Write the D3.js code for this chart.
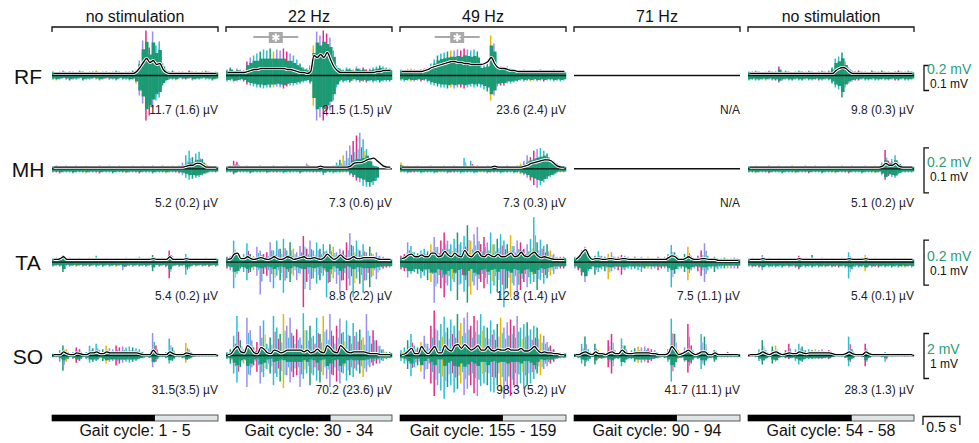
<!DOCTYPE html>
<meta charset="utf-8">
<html>
<head>
<script src="https://d3js.org/d3.v7.min.js"></script>
<style>
  body { margin: 0; background: #fff; }
  text { font-family: "Liberation Sans", Arial, sans-serif; fill: #111; }
</style>
</head>
<body>
<div id="my_dataviz"></div>
<script>

// conditions (columns) and muscles (rows)
var conditions = ["no stimulation", "22 Hz", "49 Hz", "71 Hz", "no stimulation"];
var muscles = ["RF", "MH", "TA", "SO"];
var gaitCycles = ["1 - 5", "30 - 34", "155 - 159", "90 - 94", "54 - 58"];
var stanceFrac = [0.62, 0.63, 0.62, 0.62, 0.625];
var windowSec = 2.25;                          // length of each trace window, s
var sigWindow = [null, [0.37, 0.98], [0.47, 1.08], null, null];   // s
var rawBar = ["0.2 mV", "0.2 mV", "0.2 mV", "2 mV"];
var envBar = ["0.1 mV", "0.1 mV", "0.1 mV", "1 mV"];

var meanAmp = {
  RF: ["11.7 (1.6) µV", "21.5 (1.5) µV", "23.6 (2.4) µV", "N/A", "9.8 (0.3) µV"],
  MH: ["5.2 (0.2) µV", "7.3 (0.6) µV", "7.3 (0.3) µV", "N/A", "5.1 (0.2) µV"],
  TA: ["5.4 (0.2) µV", "8.8 (2.2) µV", "12.8 (1.4) µV", "7.5 (1.1) µV", "5.4 (0.1) µV"],
  SO: ["31.5(3.5) µV", "70.2 (23.6) µV", "98.3 (5.2) µV", "41.7 (11.1) µV", "28.3 (1.3) µV"]
};

// amplitudes in 1/50ths of the row's scale bar, 50 time bins per window
// up / dn = raw EMG peak excursion above / below zero, env = mean envelope
var RF_up = [
  [8,6,8,10,6,8,8,6,10,8,6,8,8,10,6,8,8,6,8,10,8,6,8,8,10,12,30,70,90,56,88,60,68,24,12,8,10,6,8,8,6,10,8,8,6,8,10,8,6,8],
  [12,16,10,14,12,10,28,36,40,44,48,52,50,54,48,52,50,54,48,44,40,32,24,16,14,20,60,88,80,90,84,76,50,20,14,12,16,14,12,18,14,16,12,14,16,18,20,18,16,14],
  [12,10,12,14,12,10,12,14,16,24,32,40,44,46,48,50,50,52,50,54,52,50,52,48,20,22,24,80,64,20,18,16,18,14,12,10,10,12,10,8,10,10,12,10,8,10,12,10,10,8],
  null,
  [8,8,10,8,6,8,10,8,8,18,8,10,8,6,8,10,8,8,10,8,6,8,10,8,10,16,34,38,46,28,16,10,8,10,8,8,6,10,8,8,10,8,8,6,8,10,8,8,10,8]
];
var RF_dn = [
  [8,10,8,6,8,10,8,8,6,10,8,8,6,8,10,8,6,8,8,10,6,8,8,10,8,16,40,56,90,80,64,50,44,20,12,8,8,10,6,8,8,6,10,8,8,6,8,8,10,8],
  [12,10,14,12,10,12,18,20,22,24,24,26,24,24,24,22,24,26,22,20,20,18,16,14,12,16,60,90,84,90,80,70,50,24,12,14,12,14,10,12,14,12,14,12,14,12,14,12,12,12],
  [10,12,10,12,12,10,12,10,14,18,20,22,24,24,26,24,26,24,24,26,24,22,24,22,24,28,32,50,40,22,20,20,16,16,14,12,10,12,10,12,10,12,10,12,10,10,12,10,12,10],
  null,
  [10,8,10,10,8,10,8,10,10,14,10,8,10,10,8,10,10,8,10,10,8,10,10,8,10,16,24,28,44,24,16,12,10,10,8,10,10,8,10,10,8,10,10,8,10,10,8,10,10,8]
];
var RF_env = [
  [4,4,4,4,4,4,4,4,4,4,4,4,4,4,4,4,4,4,4,4,4,4,4,4,4,8,16,26,34,26,30,22,24,12,6,4,4,4,4,4,4,4,4,4,4,4,4,4,4,4],
  [6,6,6,6,6,6,8,10,12,12,14,14,14,14,14,14,14,14,12,12,10,8,6,6,4,8,40,36,42,36,46,32,18,10,6,6,6,6,6,6,6,6,6,6,6,8,8,10,10,10],
  [8,8,8,8,8,8,8,10,12,16,18,20,22,24,26,28,28,26,26,24,24,22,22,22,22,24,28,36,24,16,14,14,12,10,10,8,8,8,8,8,8,8,8,8,8,8,8,8,8,8],
  null,
  [4,4,4,4,4,4,4,4,4,4,4,4,4,4,4,4,4,4,4,4,4,4,4,4,4,4,10,14,16,14,8,4,4,4,4,4,4,4,4,4,4,4,4,4,4,4,4,4,4,4]
];

var MH_up = [
  [3,4,3,3,4,3,3,4,3,3,4,3,3,3,4,3,3,4,3,3,4,3,3,3,4,3,3,4,3,3,4,3,3,4,3,3,4,3,4,7,15,20,13,17,19,11,6,3,3,3],
  [3,4,9,8,3,3,4,3,3,3,4,3,3,3,4,3,3,3,4,3,3,3,3,3,6,3,3,3,4,3,3,3,4,7,10,15,20,26,31,37,40,33,22,11,4,3],
  [7,3,4,3,3,4,3,3,3,4,3,3,3,4,3,3,4,3,3,12,3,9,3,4,3,3,4,3,3,4,3,3,4,3,3,4,6,9,15,13,20,22,23,20,17,11,9,6,4,3],
  null,
  [3,3,4,3,3,3,4,3,3,4,3,3,3,4,3,3,3,4,3,3,4,3,3,3,4,3,3,3,4,3,3,4,3,3,3,4,3,3,4,3,7,21,9,11,15,7,4,3,3,3]
];
var MH_dn = [
  [4,4,5,4,4,4,5,4,4,4,5,4,4,4,5,4,4,4,5,4,4,4,5,4,4,4,5,4,4,4,5,4,4,4,5,4,4,4,5,7,10,12,11,10,9,7,6,4,4,4],
  [4,4,6,4,4,4,4,5,4,4,4,4,5,4,4,4,4,5,4,4,4,4,5,4,4,4,4,4,4,7,4,4,5,4,4,4,4,7,9,13,15,19,20,20,18,13,9,6,4,4],
  [4,4,5,4,4,4,5,4,4,4,5,4,4,4,5,4,4,4,5,4,4,4,5,4,4,4,5,4,4,4,5,4,4,4,5,4,6,7,10,13,18,21,18,15,11,9,7,4,4,4],
  null,
  [4,4,5,4,4,4,5,4,4,4,5,4,4,4,5,4,4,4,5,4,4,4,5,4,4,4,5,4,4,4,5,4,4,4,5,4,4,4,5,4,7,12,8,9,10,6,4,4,4,4]
];
var MH_env = [
  [2,2,2,2,2,2,2,2,2,2,2,2,2,2,2,2,2,2,2,2,2,2,2,2,2,2,2,2,2,2,2,2,2,2,2,2,2,2,2,2,3,4,4,6,6,4,2,2,2,2],
  [2,2,2,2,2,2,2,2,2,2,2,2,2,2,2,2,2,2,2,2,2,2,2,2,2,2,2,2,3,2,2,2,2,2,2,2,2,3,6,7,7,8,10,11,12,9,6,3,2,2],
  [2,2,2,2,2,2,2,2,2,2,2,2,2,2,2,2,2,2,2,2,2,2,2,2,2,2,2,2,3,2,2,2,2,2,2,2,2,3,4,6,7,8,9,10,10,9,6,3,2,2],
  null,
  [2,2,2,2,2,2,2,2,2,2,2,2,2,2,2,2,2,2,2,2,2,2,2,2,2,2,2,2,2,2,2,2,2,2,2,2,2,2,2,2,3,6,4,4,6,3,2,2,2,2]
];

var TA_up = [
  [4,5,4,8,4,5,4,4,5,4,4,5,4,7,4,4,5,4,4,5,4,4,5,4,4,5,6,4,4,5,8,4,4,5,4,13,7,4,5,4,9,4,4,5,4,4,5,4,4,5],
  [6,7,24,11,6,9,21,9,7,17,13,9,11,22,13,24,15,26,13,22,15,11,18,29,15,24,13,22,15,20,13,20,17,11,15,13,22,32,18,24,13,20,11,17,9,11,7,6,4,4],
  [7,9,22,18,11,10,13,15,12,20,28,17,24,33,24,20,26,33,22,29,41,24,31,39,20,28,22,33,20,26,31,24,20,30,18,24,22,15,20,26,50,22,25,18,20,13,9,6,6,6],
  [6,7,13,17,9,6,7,12,7,6,9,11,6,6,8,7,6,4,6,4,6,4,6,4,4,6,4,6,9,19,11,6,4,9,17,7,4,7,13,21,7,4,6,4,4,5,4,4,5,4],
  [4,5,4,4,8,4,5,4,4,5,4,4,5,4,4,7,4,5,4,8,4,4,5,4,4,5,4,4,5,4,11,5,4,4,5,8,4,4,5,4,4,5,4,4,5,4,4,5,4,4]
];
var TA_dn = [
  [5,4,5,11,4,5,4,5,4,5,4,5,4,5,4,5,4,5,4,5,4,9,5,4,5,4,5,4,5,4,10,4,5,4,5,18,5,4,5,4,14,7,4,5,4,5,4,5,4,5],
  [7,9,29,13,7,11,20,11,9,15,36,13,15,22,29,15,20,34,18,22,15,20,13,50,22,31,18,24,20,15,39,22,18,24,34,20,31,26,39,18,24,34,20,28,15,19,9,7,6,6],
  [8,10,17,13,11,13,18,15,20,22,45,24,29,39,26,32,22,42,24,33,45,36,26,31,22,29,24,35,26,33,42,50,29,39,26,42,31,22,28,24,22,31,20,24,18,15,13,8,7,7],
  [7,9,15,22,10,8,14,11,8,10,19,10,8,9,14,9,7,8,7,9,11,7,7,8,7,9,7,7,11,28,13,8,7,11,20,9,7,10,15,22,9,7,11,8,7,7,7,7,7,7],
  [5,6,5,6,9,5,6,5,6,5,6,5,6,5,6,8,5,6,5,6,5,6,5,6,5,6,5,6,5,6,18,8,5,6,5,10,5,6,5,6,5,6,5,6,5,6,5,6,5,6]
];
var TA_env = [
  [3,3,4,6,3,3,3,3,3,3,3,3,3,3,3,3,3,3,3,3,3,3,3,3,3,3,3,3,3,3,4,3,3,3,3,6,3,3,3,3,4,3,3,3,3,3,3,3,3,3],
  [3,4,9,10,4,4,6,4,3,4,5,4,3,4,6,4,3,4,6,5,3,4,5,6,4,4,5,4,3,5,9,6,3,5,8,5,3,4,6,4,4,5,5,5,5,4,3,3,3,3],
  [4,5,8,9,6,6,8,6,6,10,10,6,7,12,8,6,10,7,6,13,8,6,10,12,7,6,9,7,6,9,6,6,8,10,6,7,11,7,6,9,11,7,5,6,5,4,3,3,3,3],
  [3,6,11,14,7,3,4,4,3,3,4,4,3,3,4,4,3,3,3,3,3,3,3,3,3,3,3,3,5,7,6,3,3,4,6,4,3,3,4,4,3,3,3,2,2,2,2,2,2,2],
  [3,3,3,3,4,3,3,3,3,3,3,3,3,3,3,4,3,3,3,3,3,3,3,3,3,3,3,3,3,3,4,3,3,3,3,4,3,3,3,3,3,3,3,3,3,3,3,3,3,3]
];

var SO_up = [
  [2,2,6,11,7,2,4,9,7,2,4,11,8,13,6,7,11,8,7,11,9,10,9,10,9,8,7,4,2,3,25,11,2,2,4,19,9,2,2,3,14,7,2,1,1,1,1,1,1,1],
  [4,7,22,44,17,7,42,28,9,15,33,39,13,20,44,31,24,46,33,42,22,29,20,47,28,33,22,42,24,44,29,46,22,33,41,26,39,22,36,26,29,20,46,22,28,17,11,7,4,4],
  [6,9,17,24,11,9,15,22,13,33,50,28,35,43,31,40,33,46,36,42,48,33,44,39,46,33,31,39,29,35,42,31,37,40,33,44,31,35,37,29,33,31,24,22,15,11,7,4,3,3],
  [2,3,13,21,7,2,13,6,4,3,17,24,6,4,19,11,4,6,8,10,9,10,8,7,6,3,2,3,7,41,24,6,3,9,35,11,3,4,24,21,4,2,6,2,2,2,4,2,2,2],
  [1,1,2,7,17,6,2,10,11,4,2,6,13,4,7,13,10,6,7,6,7,6,7,4,6,3,1,1,1,3,21,7,1,1,2,13,4,1,1,1,2,4,1,1,1,1,1,1,1,1]
];
var SO_dn = [
  [2,2,7,17,7,2,4,8,6,2,4,8,7,6,3,6,9,7,6,11,9,8,7,8,7,6,4,3,2,3,13,7,2,2,3,9,6,2,2,3,8,4,2,1,1,1,1,1,1,1],
  [4,9,20,30,13,9,35,22,11,18,31,24,15,20,33,24,29,36,22,30,24,22,35,26,20,33,22,28,30,22,26,35,22,29,31,20,28,22,24,17,20,24,18,13,11,9,9,6,4,3],
  [6,9,15,23,13,11,18,26,15,31,45,33,39,48,35,33,41,37,31,44,37,33,42,45,34,31,33,40,41,33,40,48,39,45,33,35,31,37,33,31,26,20,22,15,12,9,7,4,3,3],
  [2,3,9,12,6,2,10,4,4,3,13,20,4,4,12,8,4,4,7,8,8,7,8,6,4,3,2,3,7,29,13,4,3,7,19,9,3,4,15,11,4,3,7,2,2,2,2,2,2,2],
  [1,1,2,6,10,4,2,9,7,3,2,3,4,3,6,10,7,4,4,4,4,4,4,3,4,2,1,1,1,3,12,4,1,1,2,12,3,1,1,1,2,7,1,1,1,1,1,1,1,1]
];
var SO_env = [
  [1,1,1,4,2,1,1,3,2,1,1,3,3,4,2,2,4,3,3,3,3,3,3,3,3,3,2,1,1,1,6,2,1,1,1,4,2,1,1,1,3,2,1,1,1,1,1,1,1,1],
  [1,2,7,10,4,3,11,8,3,2,9,7,3,2,6,5,3,4,6,6,6,6,6,4,6,3,4,7,4,3,11,8,4,3,11,8,4,3,4,4,4,4,3,2,2,2,1,1,1,1],
  [1,2,5,8,2,2,10,5,2,6,10,3,3,11,7,5,11,12,8,12,9,6,8,11,6,6,10,6,5,7,6,6,8,6,6,6,8,5,5,7,10,6,3,4,3,3,2,2,1,1],
  [1,1,3,4,2,1,4,2,2,1,3,4,2,2,6,3,2,2,3,3,3,3,3,2,2,1,1,1,3,10,6,1,2,4,6,3,1,2,4,4,1,1,3,1,1,1,1,1,1,1],
  [1,1,1,2,4,2,1,3,4,2,1,2,3,2,2,4,3,2,3,3,3,3,3,3,3,2,1,1,1,2,4,2,1,1,1,4,2,1,1,1,1,1,1,1,1,1,1,1,1,1]
];

var traces = {
  RF: {up: RF_up, dn: RF_dn, env: RF_env},
  MH: {up: MH_up, dn: MH_dn, env: MH_env},
  TA: {up: TA_up, dn: TA_dn, env: TA_env},
  SO: {up: SO_up, dn: SO_dn, env: SO_env}
};

// layout
var width = 979, height = 443, nBins = 50;
var green = "#1b9a74";
var spikeColors = ["#1b9a74", "#e7298a", "#27c0d3", "#9a8df0", "#27c0d3", "#e6b800",
                   "#9a8df0", "#27c0d3", "#e7298a", "#1b9a74", "#9a8df0", "#27c0d3"];
var barPx = {RF: 25, MH: 45, TA: 45, SO: 45};
var barTop = {RF: -10, MH: -21, TA: -22, SO: -22};
var bodyK = {RF: 2.2, MH: 1.3, TA: 1.0, SO: 0.9};   // how far the dense green sweeps reach

var svg = d3.select("#my_dataviz")
  .append("svg")
    .attr("width", width)
    .attr("height", height);

var x = d3.scaleBand()
  .domain(d3.range(conditions.length))
  .range([52, 914])
  .paddingInner(0.046);
var rowY = d3.scalePoint()
  .domain(muscles)
  .range([75.5, 355.5]);
var t = d3.scaleLinear()
  .domain([0, windowSec])
  .range([0, x.bandwidth()]);

// column headers with brackets
conditions.forEach(function(name, c) {
  var x0 = x(c), x1 = x0 + x.bandwidth();
  svg.append("text")
    .attr("x", (x0 + x1) / 2).attr("y", 22)
    .attr("text-anchor", "middle")
    .style("font-size", "16px")
    .text(name);
  svg.append("path")
    .attr("d", "M" + x0 + ",32V27H" + x1 + "V32")
    .attr("fill", "none").attr("stroke", "#111").attr("stroke-width", 1.3);

  // significance marker
  if (sigWindow[c]) {
    var s0 = x0 + t(sigWindow[c][0]), s1 = x0 + t(sigWindow[c][1]), sm = (s0 + s1) / 2;
    svg.append("line")
      .attr("x1", s0).attr("x2", s1).attr("y1", 37).attr("y2", 37)
      .attr("stroke", "#a9a9a9").attr("stroke-width", 1.8);
    svg.append("rect")
      .attr("x", sm - 7).attr("y", 32).attr("width", 14).attr("height", 11)
      .attr("fill", "#a9a9a9");
    [90, 30, 150].forEach(function(a) {
      var dx = 4 * Math.cos(a * Math.PI / 180), dy = 4 * Math.sin(a * Math.PI / 180);
      svg.append("line")
        .attr("x1", sm - dx).attr("x2", sm + dx)
        .attr("y1", 37.5 - dy).attr("y2", 37.5 + dy)
        .attr("stroke", "#fff").attr("stroke-width", 2);
    });
  }

  // gait phase bar
  svg.append("rect")
    .attr("x", x0).attr("y", 415).attr("width", x.bandwidth()).attr("height", 6)
    .attr("fill", "#dfe4e4").attr("stroke", "#333").attr("stroke-width", 0.8);
  svg.append("rect")
    .attr("x", x0).attr("y", 415).attr("width", x.bandwidth() * stanceFrac[c]).attr("height", 6)
    .attr("fill", "#000");
  svg.append("text")
    .attr("x", (x0 + x1) / 2).attr("y", 436)
    .attr("text-anchor", "middle")
    .style("font-size", "16px")
    .text("Gait cycle: " + gaitCycles[c]);
});

// time scale bar
svg.append("path")
  .attr("d", "M923,425V416.5H" + (923 + t(0.5)) + "V425")
  .attr("fill", "none").attr("stroke", "#111").attr("stroke-width", 1.3);
svg.append("text")
  .attr("x", 923 + t(0.5) / 2).attr("y", 431.5)
  .attr("text-anchor", "middle")
  .style("font-size", "14px")
  .text("0.5 s");

// one row per muscle
muscles.forEach(function(m, r) {
  var y0 = rowY(m);
  var amp = d3.scaleLinear().domain([0, 50]).range([0, barPx[m]]);
  var k = bodyK[m];

  svg.append("text")
    .attr("x", 28).attr("y", y0 + 8)
    .attr("text-anchor", "middle")
    .style("font-size", "21px")
    .text(m);

  conditions.forEach(function(cond, c) {
    var x0 = x(c), x1 = x0 + x.bandwidth();
    var xb = d3.scaleLinear().domain([0, nBins]).range([x0, x1]);
    var up = traces[m].up[c], dn = traces[m].dn[c], env = traces[m].env[c];
    var g = svg.append("g");

    svg.append("text")
      .attr("x", x1).attr("y", y0 + 38)
      .attr("text-anchor", "end")
      .style("font-size", "12px")
      .style("fill", "#222")
      .text(meanAmp[m][c]);

    if (!up) {
      g.append("line")
        .attr("x1", x0).attr("x2", x1).attr("y1", y0).attr("y2", y0)
        .attr("stroke", "#111").attr("stroke-width", 1.5);
      return;
    }

    // raw traces, primary spikes
    g.selectAll(".sp1").data(up).enter().append("line")
      .attr("x1", function(d, i) { return xb(i + 0.3); })
      .attr("x2", function(d, i) { return xb(i + 0.3); })
      .attr("y1", function(d) { return y0 - amp(d); })
      .attr("y2", function(d, i) { return y0 + amp(dn[i]); })
      .attr("stroke", function(d, i) { return spikeColors[(i * 5 + c * 7 + r * 3) % 12]; })
      .attr("stroke-width", 1.5);
    // secondary, overlapping sweeps
    g.selectAll(".sp2").data(up).enter().append("line")
      .attr("x1", function(d, i) { return xb(i + 0.8); })
      .attr("x2", function(d, i) { return xb(i + 0.8); })
      .attr("y1", function(d) { return y0 - amp(d) * 0.6; })
      .attr("y2", function(d, i) { return y0 + amp(dn[i]) * 0.6; })
      .attr("stroke", function(d, i) { return spikeColors[(i * 5 + c * 7 + r * 3 + 6) % 12]; })
      .attr("stroke-width", 1);

    // dense green body
    var bUp = function(d, i) { return Math.min(amp(d) * 0.75, amp(env[i]) * k + 1.5); };
    var bDn = function(i) { return Math.min(amp(dn[i]) * 0.75, amp(env[i]) * k + 1.5); };
    g.selectAll(".body").data(up).enter().append("rect")
      .attr("x", function(d, i) { return xb(i); })
      .attr("width", xb(1) - xb(0) + 0.3)
      .attr("y", function(d, i) { return y0 - bUp(d, i); })
      .attr("height", function(d, i) { return bUp(d, i) + bDn(i); })
      .attr("fill", green);

    g.append("line")
      .attr("x1", x0).attr("x2", x1).attr("y1", y0).attr("y2", y0)
      .attr("stroke", "#111").attr("stroke-width", 1.3);

    // envelope
    var line = d3.line()
      .x(function(d, i) { return xb(i + 0.5); })
      .y(function(d) { return y0 - amp(d); })
      .curve(d3.curveMonotoneX);
    g.append("path").datum(env)
      .attr("d", line).attr("fill", "none")
      .attr("stroke", "#fff").attr("stroke-width", 3.2);
    g.append("path").datum(env)
      .attr("d", line).attr("fill", "none")
      .attr("stroke", "#000").attr("stroke-width", 1.3);
  });

  // amplitude scale bar
  var top = y0 + barTop[m], bot = top + barPx[m];
  svg.append("path")
    .attr("d", "M929," + top + "H924V" + bot + "H929")
    .attr("fill", "none").attr("stroke", "#111").attr("stroke-width", 1.3);
  svg.append("text")
    .attr("x", 927).attr("y", y0 - 1.5)
    .style("font-size", "14px").style("fill", "#2a9d78")
    .text(rawBar[r]);
  svg.append("text")
    .attr("x", 930).attr("y", y0 + 12.5)
    .style("font-size", "12px")
    .text(envBar[r]);
});

</script>
</body>
</html>
